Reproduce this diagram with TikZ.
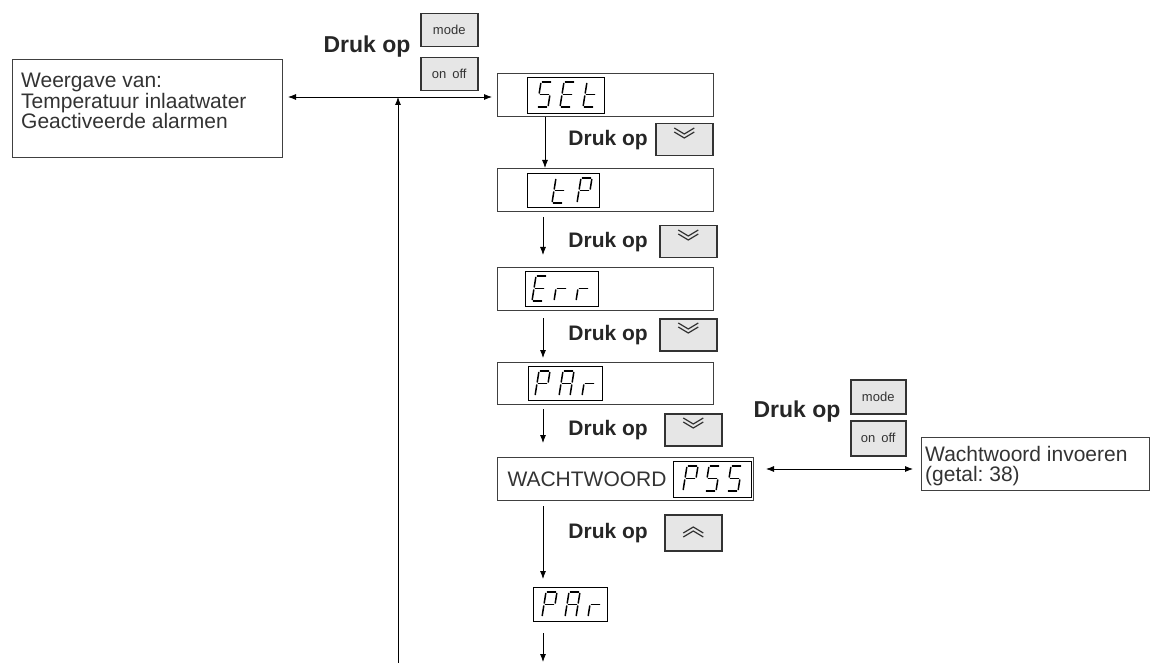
\documentclass[tikz,border=0pt]{standalone}
\usepackage{fontspec}
\setmainfont{Liberation Sans}
\usetikzlibrary{arrows.meta,calc,positioning}
\frenchspacing

\definecolor{knopgrijs}{HTML}{E6E6E6}
\definecolor{inkt}{HTML}{333333}

% segmenten van het display
\pgfkeys{/seg/.cd,
  a/.code={\draw[segline] (1.4,0) -- (9.6,0);},
  b/.code={\draw[segline] (11,1.4) -- (11,11.1);},
  c/.code={\draw[segline] (11,13.9) -- (11,23.6);},
  d/.code={\draw[segline] (1.4,25) -- (9.6,25);},
  e/.code={\draw[segline] (0,13.9) -- (0,23.6);},
  f/.code={\draw[segline] (0,1.4) -- (0,11.1);},
  g/.code={\draw[segline] (1.4,12.5) -- (9.6,12.5);},
  S/.style={/seg/a,/seg/f,/seg/g,/seg/c,/seg/d},
  E/.style={/seg/a,/seg/f,/seg/g,/seg/e,/seg/d},
  t/.style={/seg/f,/seg/g,/seg/e,/seg/d},
  P/.style={/seg/a,/seg/b,/seg/f,/seg/g,/seg/e},
  A/.style={/seg/a,/seg/b,/seg/c,/seg/e,/seg/f,/seg/g},
  r/.style={/seg/e,/seg/g}
}
\newcommand{\segwoord}[2]{%
  \foreach \xo/\ch in {#2} {
    \edef\segcmd{\noexpand\pgfkeys{/seg/\ch}}
    \begin{scope}[shift={($(#1.north west)+(\xo,5)$)}, xslant=0.16]
      \segcmd
    \end{scope}
  }}

\begin{document}
\begin{tikzpicture}[x=1pt, y=-1pt]
    %
    \tikzset{
      kader/.style={draw=black!75, line width=1pt, minimum width=216, minimum height=43, inner sep=0pt, anchor=north west},
      scherm/.style={draw=black, line width=1.1pt, minimum width=74, minimum height=35, inner sep=0pt, anchor=north west},
      knop/.style={draw=inkt, line width=1.5pt, fill=knopgrijs, minimum width=57, minimum height=33, inner sep=0pt, anchor=north west, text=inkt, font=\fontsize{13}{15}\selectfont},
      druk/.style={inner sep=0pt, text=black!85, font=\fontsize{21}{24}\selectfont\bfseries},
      grootdruk/.style={druk, font=\fontsize{23}{27}\selectfont\bfseries},
      tekst/.style={inner sep=0pt, text=inkt, align=left, font=\fontsize{21}{20.5}\selectfont},
      segline/.style={line width=1.5pt, black, line cap=round},
      pijl/.style={line width=0.8pt, -{Latex[length=8pt,width=6pt]}},
      dpijl/.style={line width=0.8pt, {Latex[length=8pt,width=6pt]}-{Latex[length=8pt,width=6pt]}},
      chev/.style={line width=1.2pt, inkt}
    }
    \useasboundingbox (0,0) rectangle (1152,663);

    %
    \node[kader, minimum width=270, minimum height=98,
          label={[tekst, anchor=north west, shift={(9,14)}]north west:{Weergave van:\\Temperatuur inlaatwater\\Geactiveerde alarmen}}] (weergave) at (12,59) {};
    \node[grootdruk] (druk0) at (367,47) {Druk op};
    \node[knop] (mode1) at (420,13) {mode};
    \node[knop] (aan1) at (420,57) {on\hspace{6pt}off};

    %
    \node[kader] (set) at (497,73) {};
    \node[kader] (tp) at (497,168) {};
    \node[kader] (err) at (497,267) {};
    \node[kader, minimum height=42] (par) at (497,362) {};
    \node[kader, minimum width=256, text width=236, inner xsep=10pt, align=left, text=inkt,
          font=\fontsize{21}{24}\selectfont] (wacht) at (497,457) {WACHTWOORD};

    \node[scherm, minimum width=77, minimum height=36] (dset) at (527,77) {};
    \node[scherm, minimum width=72, minimum height=34] (dtp) at (527,173) {};
    \node[scherm, minimum width=73] (derr) at (525,271) {};
    \node[scherm, minimum height=34] (dpar) at (528,366) {};
    \node[scherm, minimum width=78, minimum height=36] (dpss) at (673,461) {};
    \node[scherm, minimum height=34] (dpar2) at (533,587) {};

    \segwoord{dset}{14/S,37/E,60/t}
    \segwoord{dtp}{29/t,54/P}
    \segwoord{derr}{11/E,33/r,55/r}
    \segwoord{dpar}{11/P,35/A,58/r}
    \segwoord{dpss}{14/P,36/S,58/S}
    \segwoord{dpar2}{13/P,36/A,59/r}

    %
    \foreach \nm/\bx/\by/\gap in {dn1/655/123/7, dn2/659/225/11, dn3/659/318/11, dn4/664/413/16} {
        \node[knop, minimum height=32] (\nm) at (\bx,\by) {};
        \node[druk, left=\gap pt of \nm] (t\nm) {Druk op};
        \draw[chev] ([shift={(-10,5)}]\nm.north) -- ++(10,6) -- ++(10,-6)
                    ([shift={(-10,9)}]\nm.north) -- ++(10,6) -- ++(10,-6);
    }
    \node[knop, minimum height=36] (op1) at (664,514) {};
    \node[druk, left=16pt of op1] (top1) {Druk op};
    \draw[chev] ([shift={(-10,19)}]op1.north) -- ++(10,-6) -- ++(10,6)
                ([shift={(-10,23)}]op1.north) -- ++(10,-6) -- ++(10,6);

    %
    \node[grootdruk] (druk5) at (797,412) {Druk op};
    \node[knop, minimum width=55, minimum height=34] (mode2) at (850,379) {mode};
    \node[knop, minimum width=55, minimum height=35] (aan2) at (850,420) {on\hspace{6pt}off};
    \node[kader, minimum width=228, minimum height=53,
          label={[tekst, anchor=north west, font=\fontsize{21}{20}\selectfont, shift={(4,9)}]north west:{Wachtwoord invoeren\\(getal: 38)}}] (invoer) at (921,437) {};

    %
    \coordinate (kruis) at (398,97);
    \coordinate (voet) at (398,663);
    \coordinate (midden) at (0,469);
    \coordinate (eind) at (543,662);

    \draw[pijl] (voet) -- (kruis);
    \draw[dpijl, shorten <=5pt, shorten >=5pt] (weergave.east |- kruis) -- (set.west |- kruis);
    \draw[dpijl, shorten <=12pt, shorten >=8pt] (wacht.east |- midden) -- (invoer.west |- midden);

    \draw[pijl] ([xshift=48pt]set.south west) -- ([xshift=48pt]tp.north west);
    \draw[pijl, shorten <=5pt, shorten >=12pt] ([xshift=46pt]tp.south west) -- ([xshift=46pt]err.north west);
    \draw[pijl, shorten <=7pt, shorten >=4pt] ([xshift=46pt]err.south west) -- ([xshift=46pt]par.north west);
    \draw[pijl, shorten <=4pt, shorten >=14pt] ([xshift=46pt]par.south west) -- ([xshift=46pt]wacht.north west);
    \draw[pijl, shorten <=5pt, shorten >=8pt] ([xshift=46pt]wacht.south west) -- ([xshift=10pt]dpar2.north west);
    \draw[pijl, shorten <=11pt] ([xshift=10pt]dpar2.south west) -- (eind);

\end{tikzpicture}
\end{document}
